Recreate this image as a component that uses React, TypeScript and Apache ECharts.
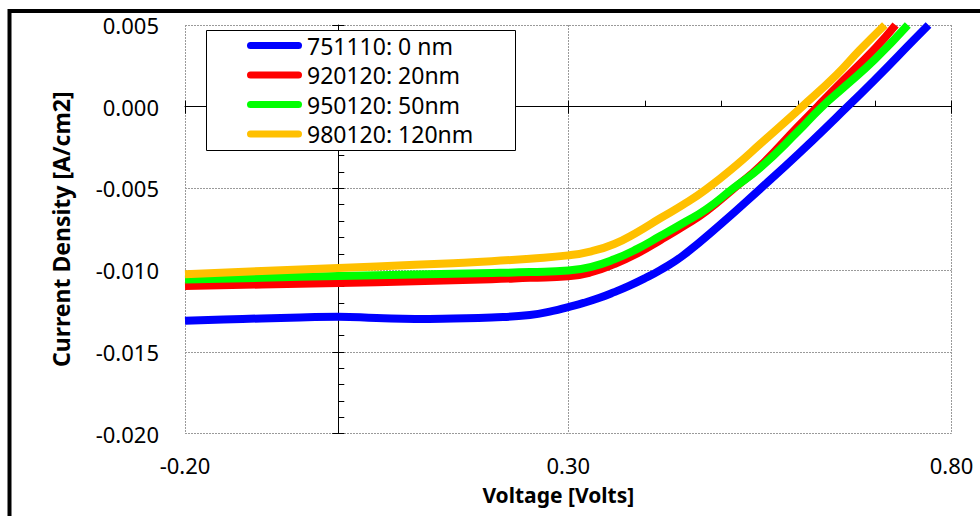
import React, { useEffect, useRef } from "react";
import * as echarts from "echarts";

// ---- data ----
const seriesNames = ["751110: 0 nm", "920120: 20nm", "950120: 50nm", "980120: 120nm"];
const seriesColors = ["#0000ff", "#ff0000", "#00ff00", "#ffc000"];

const v751110 = [-0.2, -0.15, -0.1, -0.05, 0.0, 0.05, 0.1, 0.15, 0.2, 0.25, 0.28, 0.3, 0.32, 0.34, 0.36, 0.38, 0.4, 0.42, 0.45, 0.5, 0.55, 0.6, 0.65, 0.7, 0.75, 0.77];
const j751110 = [-0.0131, -0.01302, -0.01296, -0.0129, -0.01285, -0.01293, -0.01299, -0.01296, -0.0129, -0.01275, -0.0125, -0.01226, -0.01201, -0.01171, -0.01135, -0.01095, -0.0105, -0.01, -0.0091, -0.00715, -0.00505, -0.0029, -0.00065, 0.00165, 0.00405, 0.005];

const v920120 = [-0.2, -0.1, 0.0, 0.1, 0.2, 0.25, 0.3, 0.33, 0.36, 0.39, 0.42, 0.45, 0.48, 0.52, 0.55, 0.6, 0.625, 0.65, 0.7, 0.727];
const j920120 = [-0.01098, -0.01088, -0.01079, -0.01068, -0.01056, -0.01047, -0.01038, -0.01013, -0.00963, -0.00898, -0.00817, -0.00732, -0.0064, -0.00485, -0.00365, -0.0012, 0.0, 0.0012, 0.00355, 0.005];

const v950120 = [-0.2, -0.1, 0.0, 0.1, 0.2, 0.25, 0.3, 0.33, 0.36, 0.39, 0.42, 0.45, 0.48, 0.515, 0.55, 0.6, 0.63, 0.66, 0.7, 0.743];
const j950120 = [-0.01058, -0.01047, -0.01036, -0.01027, -0.01018, -0.01012, -0.01003, -0.0098, -0.00934, -0.0087, -0.00792, -0.00712, -0.00628, -0.005, -0.00375, -0.0015, -0.00005, 0.0012, 0.0029, 0.005];

const v980120 = [-0.2, -0.1, 0.0, 0.1, 0.15, 0.2, 0.25, 0.3, 0.33, 0.36, 0.39, 0.42, 0.45, 0.48, 0.52, 0.55, 0.605, 0.65, 0.68, 0.713];
const j980120 = [-0.01025, -0.01005, -0.00987, -0.00968, -0.00958, -0.00946, -0.0093, -0.0091, -0.00885, -0.0084, -0.00768, -0.00683, -0.006, -0.00505, -0.00355, -0.0023, 0.0, 0.00195, 0.00345, 0.005];

const voltages = [v751110, v920120, v950120, v980120];
const currents = [j751110, j920120, j950120, j980120];

const xMin = -0.2;
const xMax = 0.8;
const xLabelStep = 0.5;
const xMinorStep = 0.1;
const yMin = -0.02;
const yMax = 0.005;
const yLabelStep = 0.005;
const yMinorStep = 0.001;

const FONT = "'Noto Sans', sans-serif";

export default function App() {
  const ref = useRef<HTMLDivElement>(null);

  useEffect(() => {
    if (!ref.current) return;
    const chart = echarts.init(ref.current, undefined, { renderer: "svg" });
    const grid = "#9a9a9a";
    const option: any = {
      animation: false,
      grid: { left: 185, top: 25, right: 28.5, bottom: 82.5, containLabel: false, outerBoundsMode: "none" },
      legend: {
        show: true,
        orient: "vertical",
        left: 247,
        top: 34,
        padding: 0,
        itemWidth: 55,
        itemHeight: 7,
        itemGap: 6.5,
        icon: "path://M3.5,0L51.5,0A3.5,3.5,0,0,1,51.5,7L3.5,7A3.5,3.5,0,0,1,3.5,0Z",
        textStyle: { fontSize: 23, color: "#000", fontFamily: FONT },
        data: seriesNames,
        z: 6,
      },
      xAxis: [
        {
          type: "value", min: xMin, max: xMax, interval: xLabelStep, position: "bottom",
          axisLine: { show: false, onZero: false },
          axisTick: { show: false },
          axisLabel: {
            show: true, formatter: (v: number) => v.toFixed(2), fontSize: 22, lineHeight: 22, color: "#000",
            fontFamily: FONT, margin: 20, showMinLabel: true, showMaxLabel: true,
          },
          splitLine: { show: true, lineStyle: { color: grid, width: 1, type: [2, 1] } },
          name: "Voltage [Volts]", nameLocation: "middle", nameGap: 50,
          nameTextStyle: { fontSize: 21, lineHeight: 22, fontWeight: "bold", color: "#000", fontFamily: FONT, padding: [0, 20, 0, 0] },
        },
        {
          type: "value", min: xMin, max: xMax, interval: xMinorStep, position: "bottom",
          axisLine: { show: true, onZero: true, onZeroAxisIndex: 0, lineStyle: { color: "#000", width: 1 } },
          axisTick: { show: true, inside: true, length: 6, lineStyle: { color: "#000" } },
          axisLabel: { show: false }, splitLine: { show: false },
        },
        {
          type: "value", min: xMin, max: xMax, interval: xLabelStep, position: "bottom",
          axisLine: { show: false, onZero: true, onZeroAxisIndex: 0 },
          axisTick: { show: true, inside: false, length: 7, lineStyle: { color: "#000" } },
          axisLabel: { show: false }, splitLine: { show: false },
        },
      ],
      yAxis: [
        {
          type: "value", min: yMin, max: yMax, interval: yLabelStep, position: "left",
          axisLine: { show: false, onZero: false },
          axisTick: { show: false },
          axisLabel: {
            show: true, formatter: (v: number) => (Math.abs(v) < 1e-9 ? 0 : v).toFixed(3),
            fontSize: 22, color: "#000", fontFamily: FONT, margin: 26, showMinLabel: true, showMaxLabel: true,
          },
          splitLine: { show: true, lineStyle: { color: grid, width: 1, type: [2, 1] } },
          name: "Current Density [A/cm2]", nameLocation: "middle", nameGap: 113,
          nameTextStyle: { fontSize: 23, fontWeight: "bold", color: "#000", fontFamily: FONT },
        },
        {
          type: "value", min: yMin, max: yMax, interval: yMinorStep, position: "left",
          axisLine: { show: true, onZero: true, onZeroAxisIndex: 0, lineStyle: { color: "#000", width: 1 } },
          axisTick: { show: true, inside: true, length: 6, lineStyle: { color: "#000" } },
          axisLabel: { show: false }, splitLine: { show: false },
        },
        {
          type: "value", min: yMin, max: yMax, interval: yLabelStep, position: "left",
          axisLine: { show: false, onZero: true, onZeroAxisIndex: 0 },
          axisTick: { show: true, inside: false, length: 6, lineStyle: { color: "#000" } },
          axisLabel: { show: false }, splitLine: { show: false },
        },
      ],
      graphic: [
        {
          type: "rect", z: 3, silent: true,
          shape: { x: 206.5, y: 30.5, width: 309, height: 120 },
          style: { fill: "#fff", stroke: "#000", lineWidth: 1 },
        },
        {
          type: "rect", z: 10, silent: true,
          shape: { x: 9.5, y: 11, width: 1200, height: 1000 },
          style: { fill: "none", stroke: "#000", lineWidth: 4 },
        },
      ],
      series: seriesNames.map((name, i) => ({
        name,
        type: "line",
        xAxisIndex: 0,
        yAxisIndex: 0,
        data: voltages[i].map((v, k) => [v, currents[i][k]]),
        symbol: "none",
        showSymbol: false,
        smooth: 0.5,
        lineStyle: { color: seriesColors[i], width: 8, cap: "butt", join: "round" },
        itemStyle: { color: seriesColors[i] },
        z: 2,
      })),
    };
    chart.setOption(option);
    return () => chart.dispose();
  }, []);

  return <div ref={ref} style={{ position: "fixed", left: 0, top: 0, width: 980, height: 516, background: "#fff" }} />;
}
